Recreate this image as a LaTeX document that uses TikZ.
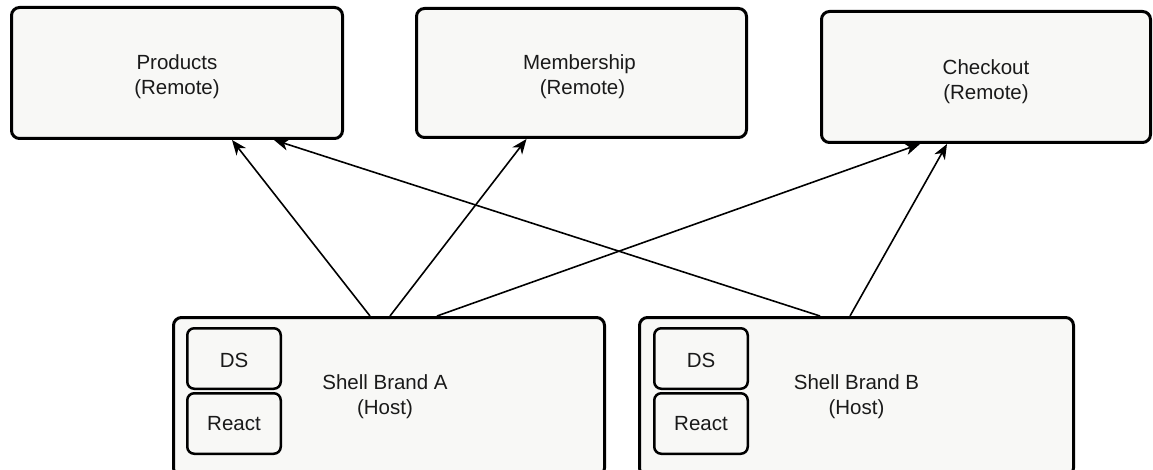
\documentclass[tikz,border=0pt]{standalone}
\usepackage{fontspec}
\setmainfont{Liberation Sans}
\usetikzlibrary{arrows.meta}
\definecolor{boxfill}{RGB}{248,248,246}
\definecolor{ink}{RGB}{26,26,26}
\tikzset{
  bigbox/.style={draw=black, fill=boxfill, line width=3pt, rounded corners=8pt,
    inner sep=0pt},
  boxtext/.style={align=center, text=ink, inner sep=0pt,
    font=\fontsize{20.5}{25}\selectfont},
  subbox/.style={draw=black, fill=boxfill, line width=2.5pt, rounded corners=7pt,
    minimum width=93.5pt, minimum height=60.5pt, inner sep=0pt},
  link/.style={draw=black, line width=1.6pt,
    -{Stealth[length=15pt, width=12pt, inset=4.5pt]}}
}
\begin{document}
\begin{tikzpicture}[x=1pt, y=-1pt]
\useasboundingbox (0,0) rectangle (1153,470);

% remote applications
\node[bigbox, minimum width=331pt, minimum height=131pt] (prod) at (177,73) {};
\node[bigbox, minimum width=330pt, minimum height=129pt] (memb) at (581.5,73) {};
\node[bigbox, minimum width=329pt, minimum height=131pt] (chk) at (986,77) {};
\node[boxtext] (prodT) at ([yshift=-4pt]prod.center) {Products\\(Remote)};
\node[boxtext] (membT) at ([xshift=-2pt, yshift=-4pt]memb.center) {Membership\\\hspace*{6pt}(Remote)};
\node[boxtext] (chkT) at ([yshift=-5pt]chk.center) {Checkout\\(Remote)};

% host shells
\node[bigbox, minimum width=431pt, minimum height=158.5pt] (shA) at (389,396.75) {};
\node[bigbox, minimum width=434pt, minimum height=158.5pt] (shB) at (856.5,396.75) {};
\node[boxtext] (shAT) at ([xshift=-4pt]shA.center) {Shell Brand A\\(Host)};
\node[boxtext] (shBT) at (shB.center) {Shell Brand B\\(Host)};

% shared libraries inside each shell
\node[subbox] (dsA) at (234,358.5) {};
\node[subbox] (reA) at (234,423.5) {};
\node[subbox] (dsB) at (701,358.5) {};
\node[subbox] (reB) at (701,423.5) {};
\node[boxtext] (dsAT) at ([yshift=-2pt]dsA.center) {DS};
\node[boxtext] (reAT) at (reA.center) {React};
\node[boxtext] (dsBT) at ([yshift=-2pt]dsB.center) {DS};
\node[boxtext] (reBT) at (reB.center) {React};

% host to remote dependencies
\draw[link] ([xshift=-19pt]shA.north) -- ([xshift=55pt]prod.south);
\draw[link] ([xshift=1pt]shA.north) -- ([xshift=-55pt]memb.south);
\draw[link] ([xshift=48pt]shA.north) -- ([xshift=-66pt]chk.south);
\draw[link] ([xshift=-36.5pt]shB.north) -- ([xshift=97pt]prod.south);
\draw[link] ([xshift=-6.5pt]shB.north) -- ([xshift=-39pt]chk.south);
\end{tikzpicture}
\end{document}
